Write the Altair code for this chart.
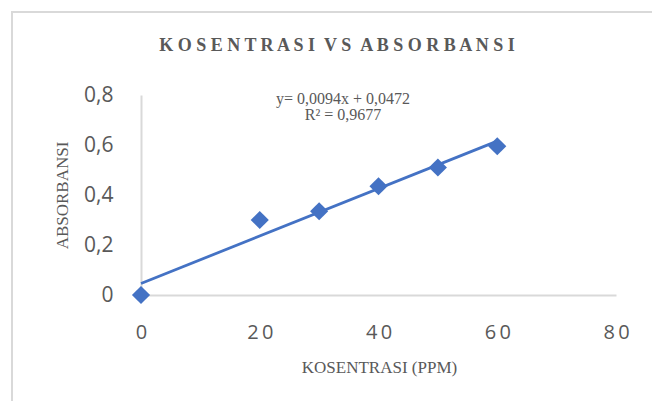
import altair as alt
import pandas as pd

# data
konsentrasi = [0, 20, 30, 40, 50, 60]
absorbansi = [0.0, 0.30, 0.335, 0.435, 0.51, 0.595]
eq_lines = ["y= 0,0094x  + 0,0472", "R\u00b2 = 0,9677"]
x_ticks = [0, 20, 40, 60, 80]
y_ticks = [0, 0.2, 0.4, 0.6, 0.8]
title_text = "KOSENTRASI VS ABSORBANSI"

df = pd.DataFrame({"x": konsentrasi, "y": absorbansi})
spaced_title = "\u2002".join(" ".join(w) for w in title_text.split(" "))

BLUE = "#4472C4"
GRAY = "#595959"
LINE = "#d9d9d9"

x_enc = alt.X(
    "x:Q",
    scale=alt.Scale(domain=[0, 80], nice=False),
    axis=alt.Axis(
        values=x_ticks,
        title="KOSENTRASI (PPM)",
        grid=False,
        ticks=False,
        domainColor=LINE,
        domainWidth=2,
        labelFlush=False,
        labelFont="Open Sans",
        labelFontSize=20,
        labelColor=GRAY,
        labelPadding=27,
        labelExpr="join(split(toString(datum.value), ''), '\u2009')",
        titleFont="Liberation Serif",
        titleFontSize=17,
        titleFontWeight="normal",
        titleColor=GRAY,
        titleX=238,
        titleY=72,
        titleBaseline="middle",
    ),
)
y_enc = alt.Y(
    "y:Q",
    scale=alt.Scale(domain=[0, 0.8], nice=False),
    axis=alt.Axis(
        values=y_ticks,
        title="ABSORBANSI",
        grid=False,
        ticks=False,
        domainColor=LINE,
        domainWidth=2,
        labelFlush=False,
        labelFont="Open Sans",
        labelFontSize=21,
        labelColor=GRAY,
        labelPadding=28,
        labelExpr="datum.value == 0 ? '0' : replace(format(datum.value, '.1f'), '.', ',')",
        titleFont="Liberation Serif",
        titleFontSize=17,
        titleFontWeight="normal",
        titleColor=GRAY,
        titleX=-79,
        titleY=100,
        titleAngle=-90,
        titleBaseline="middle",
        titleAlign="center",
    ),
)

border = alt.Chart(pd.DataFrame({"b": [0]})).mark_rect(
    fill="#ffffff", fillOpacity=0, stroke=LINE, strokeWidth=2
).encode(
    x=alt.value(-129), x2=alt.value(700), y=alt.value(-83), y2=alt.value(500)
)

trend = alt.Chart(df).transform_regression(
    "x", "y", extent=[0, 60]
).mark_line(color=BLUE, strokeWidth=2.8).encode(x=x_enc, y=y_enc)

points = alt.Chart(df).mark_point(
    shape="diamond", filled=True, size=330, color=BLUE, opacity=1
).encode(x=x_enc, y=y_enc)

eq = alt.Chart(pd.DataFrame({"t": ["\n".join(eq_lines)]})).mark_text(
    font="Liberation Serif", fontSize=16, lineHeight=16, lineBreak="\n",
    color=GRAY, align="center", baseline="middle"
).encode(
    x=alt.value(202),
    y=alt.value(4),
    text="t:N",
)

title = alt.Chart(pd.DataFrame({"t": [spaced_title]})).mark_text(
    font="Liberation Serif", fontSize=18, fontWeight="bold",
    color=GRAY, align="center", baseline="middle"
).encode(
    x=alt.value(196),
    y=alt.value(-49),
    text="t:N",
)

chart = alt.layer(border, trend, points, eq, title).properties(
    width=475,
    height=200,
    autosize=alt.AutoSizeParams(type="none"),
    padding={"left": 133, "top": 87, "right": 36, "bottom": 106},
    background="white",
).configure_view(stroke=None)

chart.save("out.html", embed_options={"renderer": "svg", "actions": False})
